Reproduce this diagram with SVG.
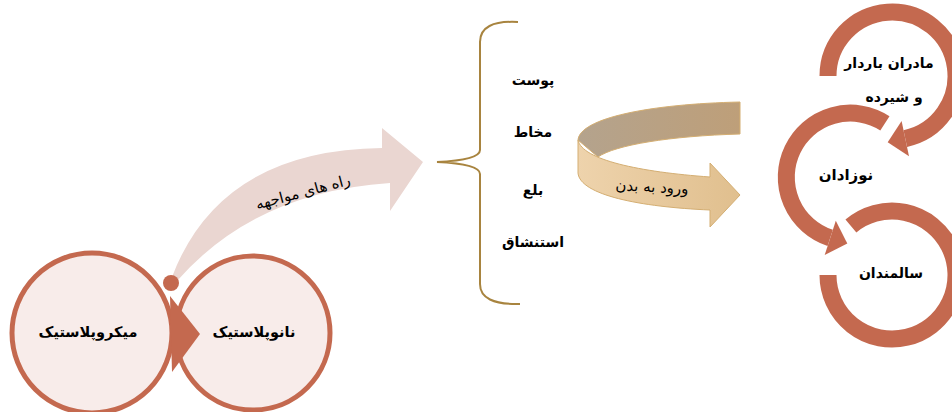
<svg xmlns="http://www.w3.org/2000/svg" width="952" height="412" viewBox="0 0 952 412">
<defs>
<style>
.t{font-family:"DejaVu Sans",sans-serif;fill:#000;text-anchor:middle;dominant-baseline:central}
.b{font-weight:bold}
.ring{fill:none;stroke:#C4694F;stroke-width:17}
.head{fill:#C4694F}
.circ{fill:#F8ECEA;stroke:#C4694F;stroke-width:5}
</style>
<linearGradient id="gBack" x1="0" y1="0" x2="1" y2="0">
<stop offset="0" stop-color="#B4A38D"/><stop offset="1" stop-color="#BE9F79"/>
</linearGradient>
<linearGradient id="gFront" x1="0" y1="0" x2="1" y2="0">
<stop offset="0" stop-color="#EED3AC"/><stop offset="1" stop-color="#E0BF8E"/>
</linearGradient>
</defs>
<rect width="952" height="412" fill="#FFFFFF"/>

<g id="connectors">
<path id="arrow-exposure" d="M172,277 Q220,150 382,148 L382,128 L423,162 L390,211 L390,183 Q255,192 177,281 Z" fill="#EAD6D1"/>
<circle cx="171" cy="283" r="8" fill="#C4694F"/>
<g id="arrow-entry" stroke="#D4AE72" stroke-width="1">
<path d="M740,102 C650,104 580,118 578,140 L598,157 C615,145 670,136 740,134 Z" fill="url(#gBack)"/>
<path d="M578,140 C582,160 640,172 710,177 L710,163 L740,195 L710,227 L710,210 C640,207 580,195 578,173 Z" fill="url(#gFront)"/>
</g>
<path id="bracket" d="M518,22 Q480,20 480,42 L480,150 Q480,160 437,162 Q480,164 480,174 L480,284 Q480,305 520,304" fill="none" stroke="#A8843F" stroke-width="2"/>
</g>

<g id="node-nano">
<circle class="circ" cx="253" cy="333" r="77"/>
<text class="t b" x="254" y="332" font-size="14.5">نانوپلاستیک</text>
</g>
<g id="node-micro">
<circle class="circ" cx="92" cy="333" r="80"/>
<polygon class="head" points="170,296 200,334 172,372"/>
<text class="t b" x="88" y="332" font-size="14.5">میکروپلاستیک</text>
</g>

<g id="label-exposure">
<text class="t" x="303" y="192" font-size="15" transform="rotate(-15 303 192)">راه های مواجهه</text>
</g>
<g id="label-entry">
<text class="t" x="652" y="187" font-size="15" transform="rotate(3 652 187)">ورود به بدن</text>
</g>

<g id="routes">
<text class="t b" x="533" y="80" font-size="14">پوست</text>
<text class="t b" x="533" y="132" font-size="14">مخاط</text>
<text class="t b" x="533" y="190" font-size="14">بلع</text>
<text class="t b" x="533" y="242" font-size="14">استنشاق</text>
</g>

<g id="node-mothers">
<path class="ring" d="M828,76 A64,64 0 1 1 905.3,138.6"/>
<polygon class="head" points="909,156.2 901.6,121 887.7,142.3"/>
<text class="t b" x="889" y="63" font-size="14" letter-spacing="0.5">مادران باردار</text>
<text class="t b" x="894" y="97" font-size="14" letter-spacing="0.5">و شیرده</text>
</g>
<g id="node-newborns">
<path class="ring" d="M884.9,123.3 A64,64 0 1 0 830.2,237.9"/>
<polygon class="head" points="824.7,255 835.8,220.7 847.3,243.5"/>
<text class="t b" x="846" y="175" font-size="15">نوزادان</text>
</g>
<g id="node-elderly">
<path class="ring" d="M850.9,226 A64,64 0 1 1 828,275"/>
<text class="t b" x="891" y="273" font-size="14">سالمندان</text>
</g>
</svg>
